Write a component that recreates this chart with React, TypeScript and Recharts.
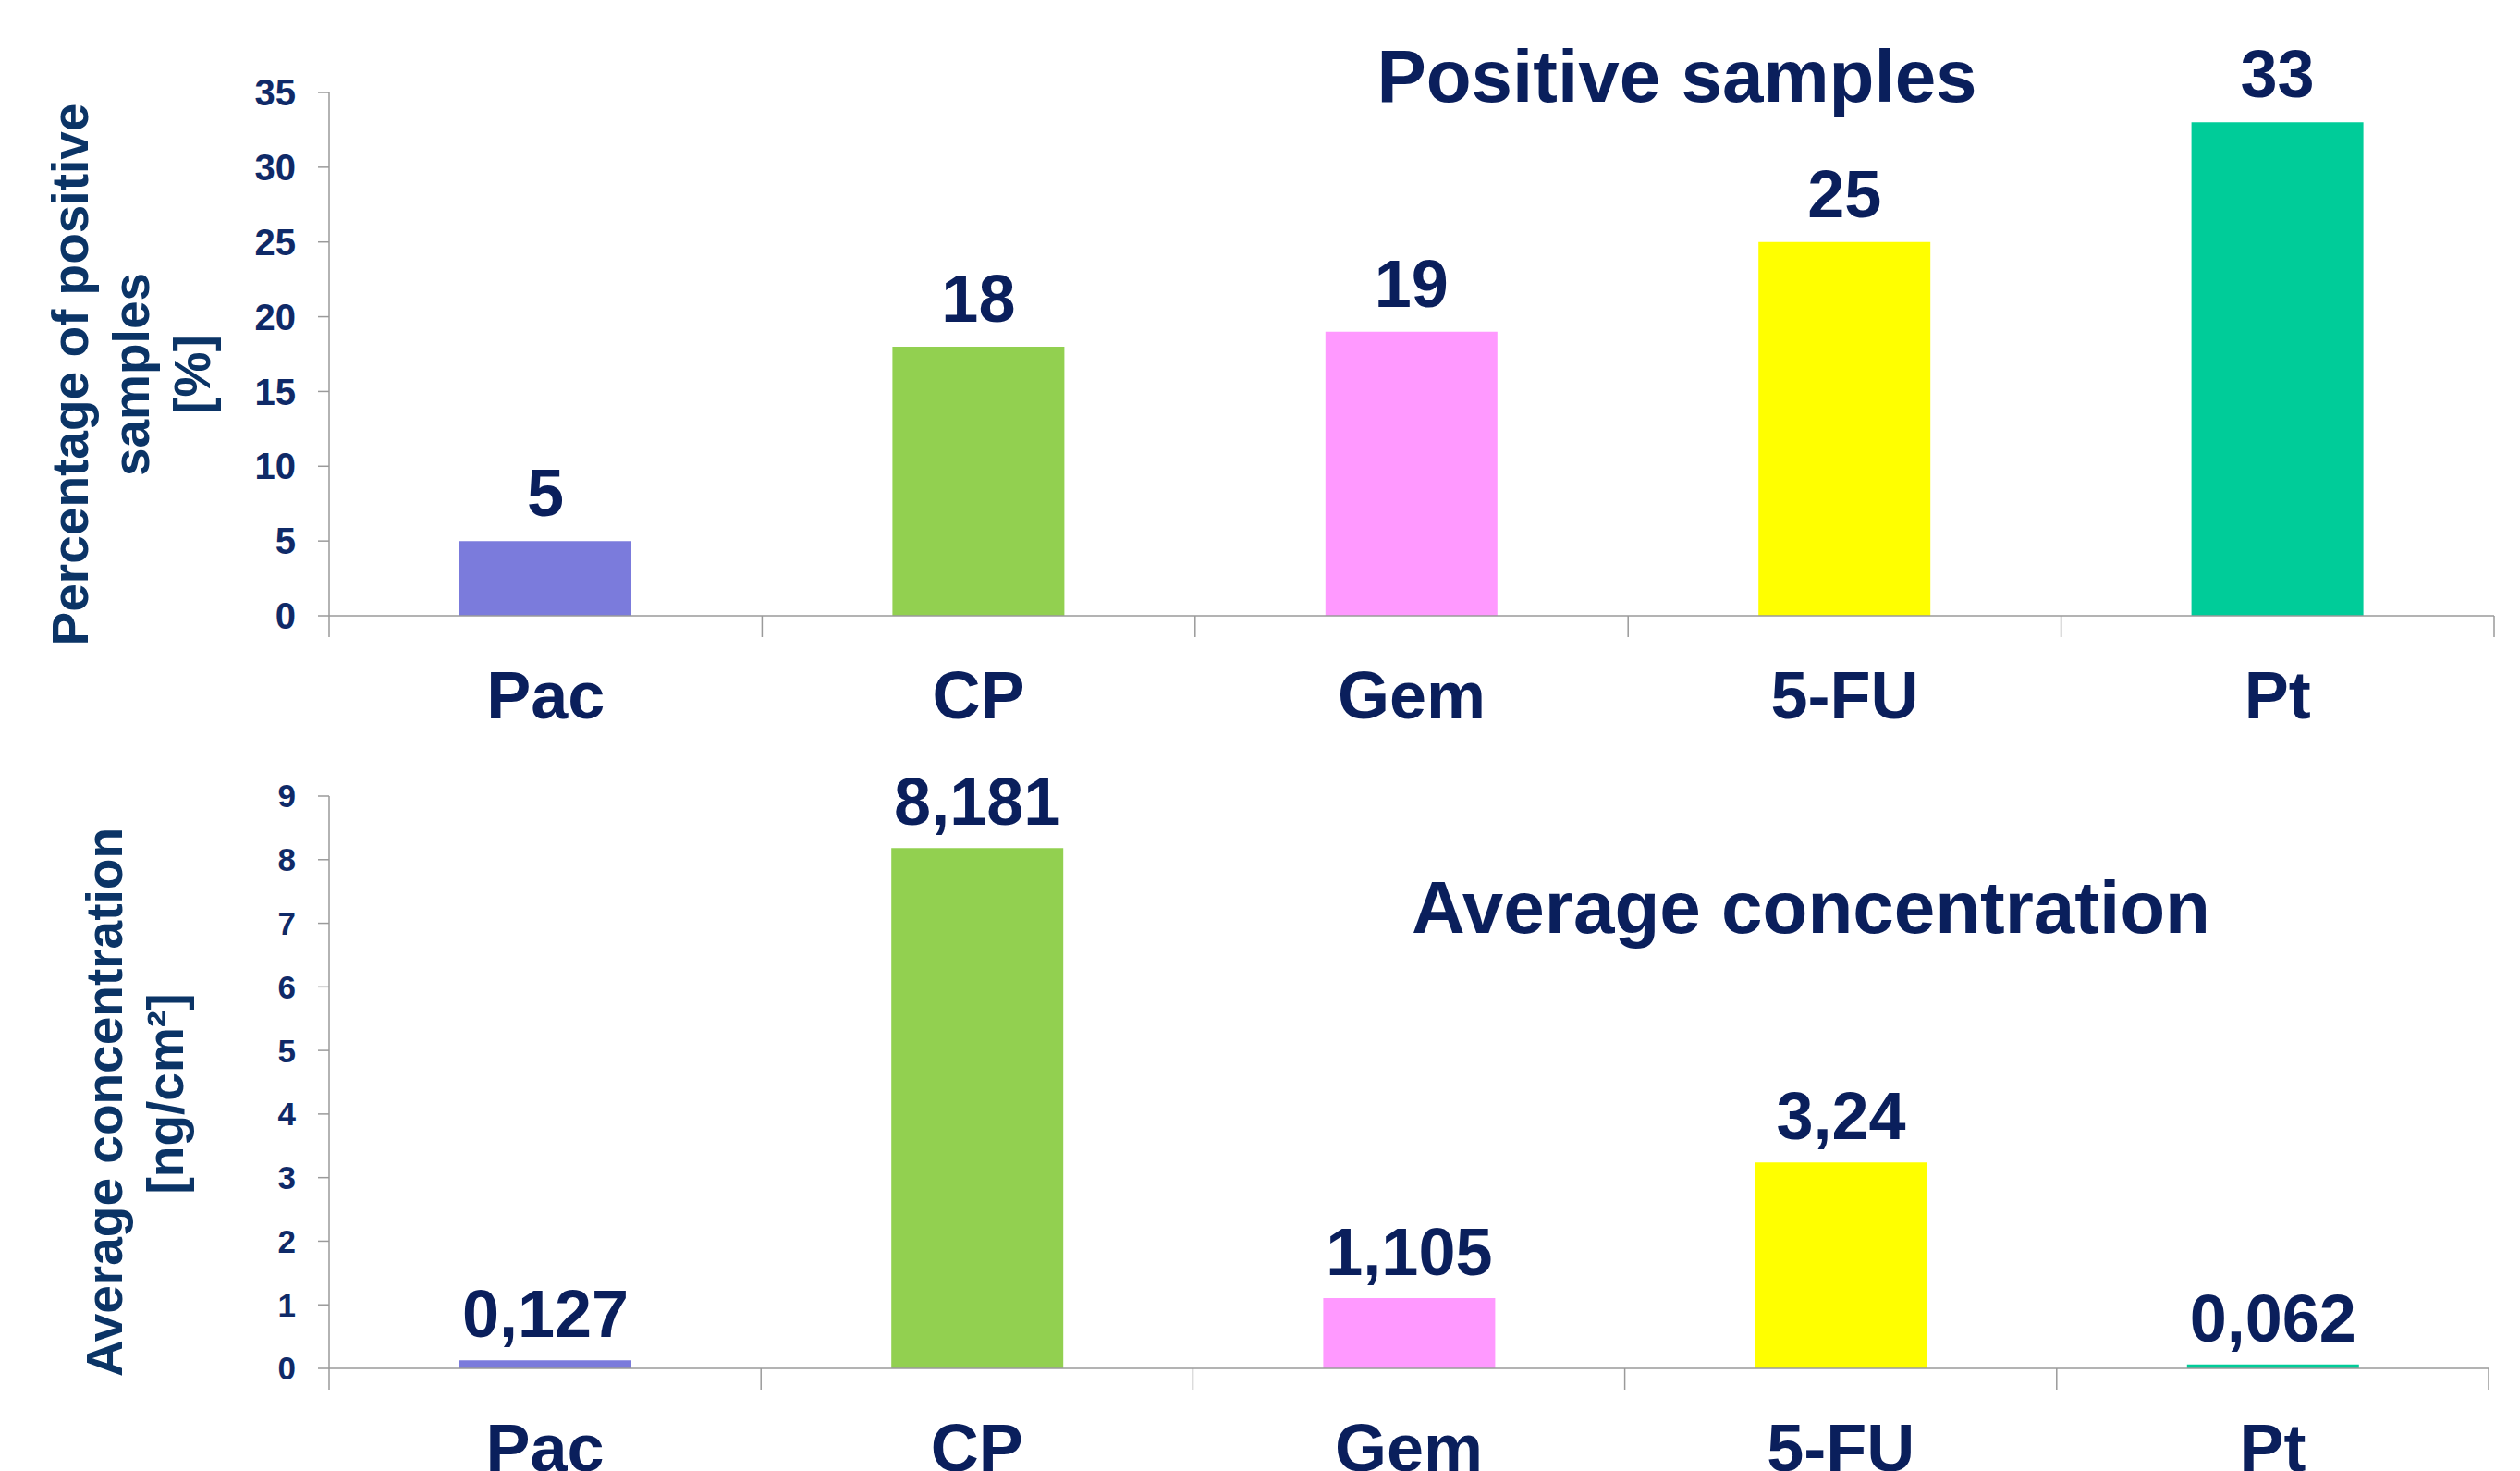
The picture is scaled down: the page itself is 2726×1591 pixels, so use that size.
import React from 'react';
import { BarChart, Bar, XAxis, YAxis, Cell, LabelList } from 'recharts';

const categories = ['Pac', 'CP', 'Gem', '5-FU', 'Pt'];
const positivePct = [5, 18, 19, 25, 33];
const avgConc = [0.127, 8.181, 1.105, 3.24, 0.062];
const barColors = ['#7b7bdc', '#92d050', '#ff99ff', '#ffff00', '#00cc99'];
const pctTicks = [0, 5, 10, 15, 20, 25, 30, 35];
const concTicks = [0, 1, 2, 3, 4, 5, 6, 7, 8, 9];

const FONT = '"Liberation Sans", Arial, Helvetica, sans-serif';
const NAVY = '#0a1f5c';
const TICK_NAVY = '#0f2a68';
const TITLE_NAVY = '#0b3466';
const GREY = '#9a9a9a';
const CAT_MARGIN = 60;
const SEP_LEN = 23;

const topData = categories.map((name, i) => ({ name, value: positivePct[i] }));
const bottomData = categories.map((name, i) => ({ name, value: avgConc[i] }));

const fmtComma = (v: any) => String(v).replace('.', ',');

// category label plus the separator marks at the band edges
const CatTick = (props: any) => {
  const { x, y, payload, index, visibleTicksCount } = props;
  const half = payload && payload.offset ? payload.offset : 0;
  const axisY = y - CAT_MARGIN;
  const last = index === (visibleTicksCount ?? categories.length) - 1;
  return (
    <g>
      <line x1={x - half} x2={x - half} y1={axisY} y2={axisY + SEP_LEN} stroke={GREY} strokeWidth={1.5} />
      {last && (
        <line x1={x + half} x2={x + half} y1={axisY} y2={axisY + SEP_LEN} stroke={GREY} strokeWidth={1.5} />
      )}
      <text
        x={x}
        y={y}
        dy="0.71em"
        textAnchor="middle"
        fill={NAVY}
        fontSize={72}
        fontWeight={700}
        fontFamily={FONT}
      >
        {payload.value}
      </text>
    </g>
  );
};

type PanelProps = {
  data: { name: string; value: number }[];
  height: number;
  margin: { top: number; right: number; bottom: number; left: number };
  domain: [number, number];
  ticks: number[];
  tickFont: number;
  catHeight: number;
  labelOffset: number;
};

const Panel = ({ data, height, margin, domain, ticks, tickFont, catHeight, labelOffset }: PanelProps) => (
  <BarChart width={2726} height={height} data={data} margin={margin}>
    <XAxis
      dataKey="name"
      height={catHeight}
      axisLine={{ stroke: GREY, strokeWidth: 1.5 }}
      tickLine={false}
      tickSize={0}
      tickMargin={CAT_MARGIN}
      interval={0}
      tick={<CatTick />}
    />
    <YAxis
      width={356}
      domain={domain}
      ticks={ticks}
      interval={0}
      tickSize={12}
      tickMargin={24}
      axisLine={{ stroke: GREY, strokeWidth: 1.5 }}
      tickLine={{ stroke: GREY, strokeWidth: 1.5 }}
      tick={{ fill: TICK_NAVY, fontSize: tickFont, fontWeight: 700, fontFamily: FONT }}
    />
    <Bar dataKey="value" barSize={186} isAnimationActive={false}>
      {data.map((d, i) => (
        <Cell key={d.name} fill={barColors[i]} />
      ))}
      <LabelList
        dataKey="value"
        position="top"
        offset={labelOffset}
        formatter={fmtComma}
        fill={NAVY}
        fontSize={72}
        fontWeight={700}
        fontFamily={FONT}
      />
    </Bar>
  </BarChart>
);

const titleStyle = { fill: NAVY, fontSize: 80, fontWeight: 700, fontFamily: FONT };
const axisTitleStyle = { fill: TITLE_NAVY, fontSize: 55, fontWeight: 700, fontFamily: FONT };

export default function App() {
  return (
    <div
      style={{
        position: 'absolute',
        left: 0,
        top: 0,
        width: 2726,
        height: 1591,
        overflow: 'hidden',
        background: '#fff',
        fontFamily: FONT,
      }}
    >
      <div style={{ position: 'absolute', left: 0, top: 0 }}>
        <Panel
          data={topData}
          height={800}
          margin={{ top: 100, right: 28, bottom: 0, left: 0 }}
          domain={[0, 35]}
          ticks={pctTicks}
          tickFont={40}
          catHeight={134}
          labelOffset={27}
        />
      </div>
      <div style={{ position: 'absolute', left: 0, top: 800 }}>
        <Panel
          data={bottomData}
          height={791}
          margin={{ top: 61, right: 34, bottom: 0, left: 0 }}
          domain={[0, 9]}
          ticks={concTicks}
          tickFont={35}
          catHeight={111}
          labelOffset={25}
        />
      </div>
      <svg
        width={2726}
        height={1591}
        style={{ position: 'absolute', left: 0, top: 0, pointerEvents: 'none' }}
      >
        <text x={1814} y={110} textAnchor="middle" style={titleStyle}>
          Positive samples
        </text>
        <text x={1959} y={1009} textAnchor="middle" style={titleStyle}>
          Average concentration
        </text>
        <g transform="rotate(-90)" style={axisTitleStyle}>
          <text x={-405} y={95} textAnchor="middle">Percentage of positive</text>
          <text x={-405} y={161} textAnchor="middle">samples</text>
          <text x={-405} y={227} textAnchor="middle">[%]</text>
          <text x={-1192} y={132} textAnchor="middle">Average concentration</text>
          <text x={-1183} y={198} textAnchor="middle">[ng/cm²]</text>
        </g>
      </svg>
    </div>
  );
}
